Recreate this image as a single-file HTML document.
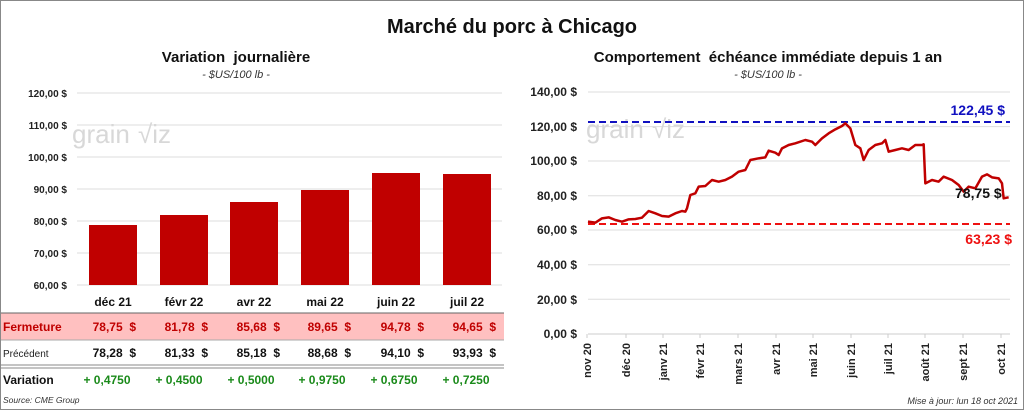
<!DOCTYPE html>
<html><head><meta charset="utf-8"><style>
body{margin:0;background:#fff}
svg{display:block;font-family:"Liberation Sans",Arial,sans-serif}
text{white-space:pre}
</style></head><body>
<svg width="1024" height="410" viewBox="0 0 1024 410" xml:space="preserve">
<rect x="0.5" y="0.5" width="1023" height="409" fill="#fff" stroke="#888"/>
<text x="512" y="33" font-size="20" font-weight="bold" text-anchor="middle" fill="#111">Marché du porc à Chicago</text>
<text x="236" y="62" font-size="15" font-weight="bold" text-anchor="middle" fill="#111">Variation  journalière</text>
<text x="236" y="78" font-size="11" font-style="italic" text-anchor="middle" fill="#333">- $US/100 lb -</text>
<g stroke="#ddd" stroke-width="1">
<line x1="77" x2="502" y1="93" y2="93"/><line x1="77" x2="502" y1="125" y2="125"/><line x1="77" x2="502" y1="157" y2="157"/><line x1="77" x2="502" y1="189" y2="189"/><line x1="77" x2="502" y1="221" y2="221"/><line x1="77" x2="502" y1="253" y2="253"/><line x1="77" x2="502" y1="285" y2="285"/>
</g>
<g font-size="10" font-weight="bold" fill="#222" text-anchor="end">
<text x="67" y="97">120,00 $</text><text x="67" y="129">110,00 $</text><text x="67" y="161">100,00 $</text><text x="67" y="193">90,00 $</text><text x="67" y="225">80,00 $</text><text x="67" y="257">70,00 $</text><text x="67" y="289">60,00 $</text>
</g>
<text x="72" y="143" font-size="26" fill="#d8d8d8">grain</text><text x="138" y="143" font-size="26" fill="#d8d8d8">√iz</text>
<g fill="#c00000">
<rect x="89" y="225" width="48" height="60"/>
<rect x="160" y="215" width="48" height="70"/>
<rect x="230" y="202" width="48" height="83"/>
<rect x="301" y="190" width="48" height="95"/>
<rect x="372" y="173" width="48" height="112"/>
<rect x="443" y="174" width="48" height="111"/>
</g>
<g font-size="12" font-weight="bold" fill="#111" text-anchor="middle">
<text x="113" y="306">déc 21</text><text x="184" y="306">févr 22</text><text x="254" y="306">avr 22</text><text x="325" y="306">mai 22</text><text x="396" y="306">juin 22</text><text x="467" y="306">juil 22</text>
</g>
<rect x="1" y="313" width="503" height="27" fill="#ffc0c0"/>
<line x1="1" x2="504" y1="313" y2="313" stroke="#666"/>
<line x1="1" x2="504" y1="340" y2="340" stroke="#aaa"/>
<line x1="1" x2="504" y1="365" y2="365" stroke="#888"/><line x1="1" x2="504" y1="368" y2="368" stroke="#888"/>
<text x="3" y="331" font-size="12" font-weight="bold" fill="#c00000">Fermeture</text>
<g font-size="12" font-weight="bold" fill="#c00000" text-anchor="end">
<text x="136" y="331">78,75  $</text><text x="208" y="331">81,78  $</text><text x="280" y="331">85,68  $</text><text x="351" y="331">89,65  $</text><text x="424" y="331">94,78  $</text><text x="496" y="331">94,65  $</text>
</g>
<text x="3" y="357" font-size="10" fill="#222">Précédent</text>
<g font-size="12" font-weight="bold" fill="#111" text-anchor="end">
<text x="136" y="357">78,28  $</text><text x="208" y="357">81,33  $</text><text x="280" y="357">85,18  $</text><text x="351" y="357">88,68  $</text><text x="424" y="357">94,10  $</text><text x="496" y="357">93,93  $</text>
</g>
<text x="3" y="384" font-size="12" font-weight="bold" fill="#111">Variation</text>
<g font-size="12" font-weight="bold" fill="#1a8a1a" text-anchor="middle">
<text x="107" y="384">+ 0,4750</text><text x="179" y="384">+ 0,4500</text><text x="251" y="384">+ 0,5000</text><text x="322" y="384">+ 0,9750</text><text x="394" y="384">+ 0,6750</text><text x="466" y="384">+ 0,7250</text>
</g>
<text x="3" y="403" font-size="8.5" font-style="italic" fill="#333">Source: CME Group</text>
<text x="768" y="62" font-size="15" font-weight="bold" text-anchor="middle" fill="#111">Comportement  échéance immédiate depuis 1 an</text>
<text x="768" y="78" font-size="11" font-style="italic" text-anchor="middle" fill="#333">- $US/100 lb -</text>
<g stroke="#ddd">
<line x1="588" x2="1010" y1="92" y2="92"/><line x1="588" x2="1010" y1="126.6" y2="126.6"/><line x1="588" x2="1010" y1="161" y2="161"/><line x1="588" x2="1010" y1="195.7" y2="195.7"/><line x1="588" x2="1010" y1="230" y2="230"/><line x1="588" x2="1010" y1="264.7" y2="264.7"/><line x1="588" x2="1010" y1="299.3" y2="299.3"/>
</g>
<line x1="588" x2="1010" y1="334" y2="334" stroke="#ccc"/>
<g font-size="12" font-weight="bold" fill="#222" text-anchor="end">
<text x="577" y="96">140,00 $</text><text x="577" y="131">120,00 $</text><text x="577" y="165">100,00 $</text><text x="577" y="200">80,00 $</text><text x="577" y="234">60,00 $</text><text x="577" y="269">40,00 $</text><text x="577" y="304">20,00 $</text><text x="577" y="338">0,00 $</text>
</g>
<text x="586" y="138" font-size="26" fill="#d8d8d8">grain</text><text x="652" y="138" font-size="26" fill="#d8d8d8">√iz</text>
<line x1="588" x2="1010" y1="122" y2="122" stroke="#1010c0" stroke-width="2" stroke-dasharray="7,4"/>
<line x1="588" x2="1010" y1="224" y2="224" stroke="#ee1111" stroke-width="2" stroke-dasharray="7,4"/>
<text x="1005" y="115" font-size="14" font-weight="bold" fill="#1010c0" text-anchor="end">122,45 $</text>
<text x="1012" y="244" font-size="14" font-weight="bold" fill="#ee1111" text-anchor="end">63,23 $</text>
<g transform="translate(512,80) scale(0.33333)">
<polyline fill="none" stroke="#c00000" stroke-width="7.5" stroke-linejoin="round" points="228,425 250,428 270,415 290,412 310,420 330,425 350,418 370,417 390,413 410,393 430,400 450,408 470,410 490,400 510,393 520,395 525,385 535,345 550,340 560,320 580,318 600,300 620,305 640,300 660,290 680,275 700,270 715,240 740,235 760,232 770,212 790,218 800,225 810,205 830,195 850,190 880,180 900,185 910,195 930,175 950,160 970,148 990,138 1000,130 1015,145 1030,195 1045,205 1055,240 1070,210 1090,195 1110,190 1120,180 1130,215 1150,210 1170,205 1190,210 1210,195 1230,195 1235,193 1240,310 1260,300 1280,305 1295,290 1320,300 1340,315 1355,335 1370,320 1390,325 1410,290 1425,283 1440,292 1460,295 1470,310 1475,355 1490,352"/>
</g>
<text x="955" y="198" font-size="14" font-weight="bold" fill="#111">78,75 $</text>
<g stroke="#ccc">
<line x1="587" x2="587" y1="334" y2="338"/><line x1="626" x2="626" y1="334" y2="338"/><line x1="663" x2="663" y1="334" y2="338"/><line x1="700" x2="700" y1="334" y2="338"/><line x1="738" x2="738" y1="334" y2="338"/><line x1="776" x2="776" y1="334" y2="338"/><line x1="813" x2="813" y1="334" y2="338"/><line x1="851" x2="851" y1="334" y2="338"/><line x1="888" x2="888" y1="334" y2="338"/><line x1="925" x2="925" y1="334" y2="338"/><line x1="963" x2="963" y1="334" y2="338"/><line x1="1001" x2="1001" y1="334" y2="338"/>
</g>
<g font-size="11" font-weight="bold" fill="#222" text-anchor="end">
<text transform="translate(591,343) rotate(-90)">nov 20</text>
<text transform="translate(630,343) rotate(-90)">déc 20</text>
<text transform="translate(667,343) rotate(-90)">janv 21</text>
<text transform="translate(704,343) rotate(-90)">févr 21</text>
<text transform="translate(742,343) rotate(-90)">mars 21</text>
<text transform="translate(780,343) rotate(-90)">avr 21</text>
<text transform="translate(817,343) rotate(-90)">mai 21</text>
<text transform="translate(855,343) rotate(-90)">juin 21</text>
<text transform="translate(892,343) rotate(-90)">juil 21</text>
<text transform="translate(929,343) rotate(-90)">août 21</text>
<text transform="translate(967,343) rotate(-90)">sept 21</text>
<text transform="translate(1005,343) rotate(-90)">oct 21</text>
</g>
<text x="1018" y="404" font-size="9" font-style="italic" fill="#333" text-anchor="end">Mise à jour: lun 18 oct 2021</text>
</svg>
</body></html>
